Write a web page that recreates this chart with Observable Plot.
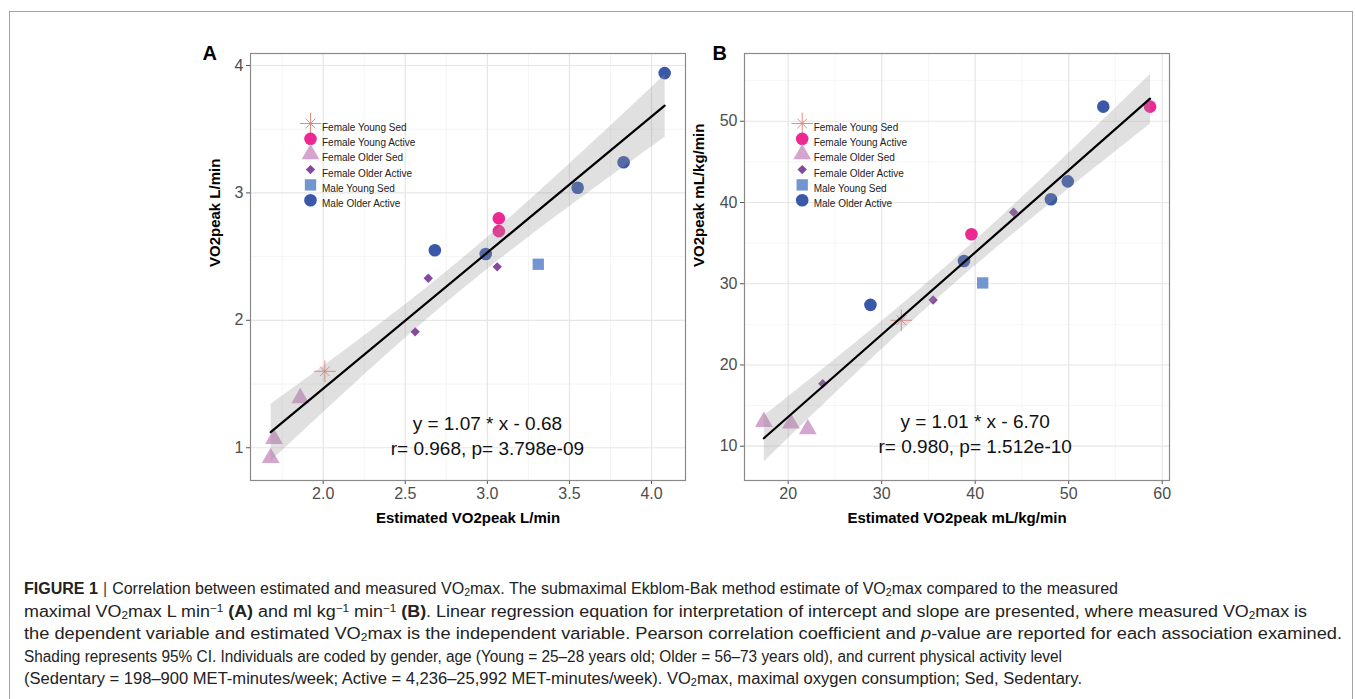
<!DOCTYPE html>
<html>
<head>
<meta charset="utf-8">
<script src="https://cdn.jsdelivr.net/npm/d3@7"></script>
<script src="https://cdn.jsdelivr.net/npm/@observablehq/plot@0.6"></script>
<style>
  html, body { margin: 0; padding: 0; background: #fff; }
  body { width: 1355px; height: 699px; overflow: hidden; position: relative; font-family: "Liberation Sans", Arial, sans-serif; }
  #box { position: absolute; left: 9px; top: 11px; width: 1344px; height: 760px; border: 1px solid #a3a3a3; box-sizing: border-box; }
  #pa { position: absolute; left: 180px; top: 40px; }
  #pb { position: absolute; left: 690px; top: 40px; }
  #cap { position: absolute; left: 24px; top: 578px; font-size: 16px; line-height: 22.6px; color: #222; white-space: nowrap; }
  #cap .ln { display: block; width: max-content; transform-origin: 0 50%; }
  #cap b { font-weight: bold; }
  #cap .sep { color: #444; padding: 0 5px; }
  sub { font-size: 10.5px; vertical-align: -2px; line-height: 0; }
  sup { font-size: 10.5px; vertical-align: 5px; line-height: 0; }
</style>
</head>
<body>
<div id="box"></div>
<div id="pa"></div>
<div id="pb"></div>
<div id="cap">
<span class="ln" data-end="1118"><b>FIGURE 1</b><span class="sep">|</span>Correlation between estimated and measured VO<sub>2</sub>max. The submaximal Ekblom-Bak method estimate of VO<sub>2</sub>max compared to the measured</span>
<span class="ln" data-end="1307">maximal VO<sub>2</sub>max L min<sup>−1</sup> <b>(A)</b> and ml kg<sup>−1</sup> min<sup>−1</sup> <b>(B)</b>. Linear regression equation for interpretation of intercept and slope are presented, where measured VO<sub>2</sub>max is</span>
<span class="ln" data-end="1342">the dependent variable and estimated VO<sub>2</sub>max is the independent variable. Pearson correlation coefficient and <i>p</i>-value are reported for each association examined.</span>
<span class="ln" data-end="1062">Shading represents 95% CI. Individuals are coded by gender, age (Young = 25–28 years old; Older = 56–73 years old), and current physical activity level</span>
<span class="ln" data-end="1082">(Sedentary = 198–900 MET-minutes/week; Active = 4,236–25,992 MET-minutes/week). VO<sub>2</sub>max, maximal oxygen consumption; Sed, Sedentary.</span>
</div>
<script>
// ---------- data ----------
const groups = ["Female Young Sed", "Female Young Active", "Female Older Sed", "Female Older Active", "Male Young Sed", "Male Older Active"];
const groupColors = ["#ec7c73", "#ec1c8c", "#d3a0cb", "#7d3f98", "#6b8fd0", "#2f4fa3"];
const groupSymbols = ["star8", "circle", "triangle", "diamond2", "square", "circle"];
const groupRadius = [7, 6.3, 6.6, 4.2, 6.4, 6.3];

const pointGroups = ["Male Older Active", "Male Older Active", "Male Older Active", "Male Older Active", "Male Older Active",
  "Female Young Active", "Female Young Active", "Male Young Sed",
  "Female Older Active", "Female Older Active", "Female Older Active",
  "Female Young Sed", "Female Older Sed", "Female Older Sed", "Female Older Sed"];

// Panel A (L/min)
const estA  = [4.08, 3.83, 3.55, 2.99, 2.68, 3.07, 3.07, 3.31, 2.64, 3.06, 2.56, 2.01, 1.86, 1.70, 1.68];
const measA = [3.94, 3.24, 3.04, 2.52, 2.55, 2.80, 2.70, 2.44, 2.33, 2.42, 1.91, 1.60, 1.39, 1.07, 0.92];
// Panel B (mL/kg/min)
const estB  = [53.7, 49.9, 48.1, 38.8, 28.8, 58.7, 39.6, 40.8, 44.1, 35.5, 23.7, 32.1, 17.4, 20.3, 22.1];
const measB = [51.8, 42.6, 40.4, 32.8, 27.4, 51.8, 36.1, 30.1, 38.8, 28.0, 17.7, 25.5, 13.0, 12.8, 12.1];

const xDomainA = [1.557, 4.207], yDomainA = [0.743, 4.094];
const xDomainB = [15.33, 60.78], yDomainB = [5.78, 58.34];
const xTicksA = [2.0, 2.5, 3.0, 3.5, 4.0], yTicksA = [1, 2, 3, 4];
const xGridMinorA = [1.75, 2.25, 2.75, 3.25, 3.75], yGridMinorA = [1.5, 2.5, 3.5];
const xTicksB = [20, 30, 40, 50, 60], yTicksB = [10, 20, 30, 40, 50];
const xGridMinorB = [25, 35, 45, 55], yGridMinorB = [15, 25, 35, 45, 55];

const eqA = ["y = 1.07 * x - 0.68", "r= 0.968, p= 3.798e-09"], eqAx = [3.0, 3.0], eqAy = [1.19, 0.99];
const eqB = ["y = 1.01 * x - 6.70", "r= 0.980, p= 1.512e-10"], eqBx = [40, 40], eqBy = [12.96, 9.88];

const titles = {
  A: {panel: "A", x: "Estimated VO2peak L/min", y: "VO2peak L/min"},
  B: {panel: "B", x: "Estimated VO2peak mL/kg/min", y: "VO2peak mL/kg/min"}
};

// ---------- drawing ----------
const FONT = "Liberation Sans, Arial, Helvetica, sans-serif";

function symbolMarks(data, g, legend) {
  const gi = groups.indexOf(g);
  const color = groupColors[gi], sym = groupSymbols[gi], r = groupRadius[gi];
  const base = legend ? legend : {x: "x", y: "y"};
  if (sym === "star8") {
    return [
      Plot.dot(data, {...base, symbol: "plus", r: r, stroke: color, strokeWidth: 0.9, fill: "none"}),
      Plot.dot(data, {...base, symbol: "times", r: r / 1.55, stroke: color, strokeWidth: 0.9, fill: "none"})
    ];
  }
  return [Plot.dot(data, {...base, symbol: sym, r: r, fill: color, fillOpacity: 0.95, stroke: "none"})];
}

function panel(cfg) {
  const data = cfg.est.map((v, i) => ({x: v, y: cfg.meas[i], g: pointGroups[i]}));
  const marks = [
    Plot.gridX(cfg.xMinor, {stroke: "#f1f1f1", strokeOpacity: 1, strokeWidth: 0.7}),
    Plot.gridY(cfg.yMinor, {stroke: "#f1f1f1", strokeOpacity: 1, strokeWidth: 0.7}),
    Plot.gridX(cfg.xTicks, {stroke: "#e6e6e6", strokeOpacity: 1, strokeWidth: 1.2}),
    Plot.gridY(cfg.yTicks, {stroke: "#e6e6e6", strokeOpacity: 1, strokeWidth: 1.2}),
    Plot.axisX(cfg.xTicks, {tickFormat: cfg.xFormat, fontSize: 16, color: "#4d4d4d", stroke: "#555", tickSize: 4, tickPadding: 3, label: null}),
    Plot.axisY(cfg.yTicks, {tickFormat: cfg.yFormat, fontSize: 16, color: "#4d4d4d", stroke: "#555", tickSize: 4, tickPadding: 3, label: null}),
  ];
  for (const g of groups) {
    const sub = data.filter(d => d.g === g);
    if (sub.length) marks.push(...symbolMarks(sub, g));
  }
  marks.push(Plot.linearRegressionY(data, {x: "x", y: "y", ci: 0.95, stroke: "#000", strokeWidth: 2.2, fill: "#999", fillOpacity: 0.3}));
  marks.push(Plot.frame({stroke: "#8a8a8a", strokeWidth: 1.2}));
  groups.forEach((g, i) => {
    marks.push(...symbolMarks([g], g, {frameAnchor: "top-left", dx: cfg.legX, dy: 70 + i * 15.35}));
    marks.push(Plot.text([g], {frameAnchor: "top-left", dx: cfg.legX + 11.5, dy: 70 + i * 15.35, text: d => d, textAnchor: "start", fontSize: 10, fill: "#222"}));
  });
  marks.push(Plot.text(cfg.eq, {x: (d, i) => cfg.eqx[i], y: (d, i) => cfg.eqy[i], text: d => d, fontSize: 19, fill: "#111"}));
  marks.push(Plot.text([cfg.titles.x], {frameAnchor: "bottom", dy: 42.7, text: d => d, fontSize: 15, fontWeight: "bold", fill: "#000"}));
  marks.push(Plot.text([cfg.titles.y], {frameAnchor: "left", dx: cfg.yTitleDx, rotate: -90, text: d => d, fontSize: 15, fontWeight: "bold", fill: "#000"}));
  marks.push(Plot.text([cfg.titles.panel], {frameAnchor: "top-left", dx: cfg.panelDx, dy: -8, text: d => d, fontSize: 20, fontWeight: "bold", fill: "#000"}));

  return Plot.plot({
    width: cfg.width, height: 500,
    marginLeft: cfg.marginLeft, marginRight: 15, marginTop: 13, marginBottom: 60,
    style: {fontFamily: FONT, fontSize: "16px", background: "transparent", overflow: "visible", color: "#4d4d4d"},
    x: {domain: cfg.xDomain},
    y: {domain: cfg.yDomain},
    marks
  });
}

document.getElementById("pa").appendChild(panel({
  est: estA, meas: measA, xDomain: xDomainA, yDomain: yDomainA,
  xTicks: xTicksA, yTicks: yTicksA, xMinor: xGridMinorA, yMinor: yGridMinorA,
  xFormat: d3.format(".1f"), yFormat: d3.format("d"),
  eq: eqA, eqx: eqAx, eqy: eqAy, titles: titles.A,
  width: 520, marginLeft: 70, legX: 60, yTitleDx: -35, panelDx: -48
}));
document.getElementById("pb").appendChild(panel({
  est: estB, meas: measB, xDomain: xDomainB, yDomain: yDomainB,
  xTicks: xTicksB, yTicks: yTicksB, xMinor: xGridMinorB, yMinor: yGridMinorB,
  xFormat: d3.format("d"), yFormat: d3.format("d"),
  eq: eqB, eqx: eqBx, eqy: eqBy, titles: titles.B,
  width: 494, marginLeft: 54, legX: 57.7, yTitleDx: -45, panelDx: -32
}));

// stretch each caption line so its right end matches the reference layout
function fitCaption() {
  document.querySelectorAll("#cap .ln").forEach(el => {
    el.style.transform = "none";
    const rect = el.getBoundingClientRect();
    const target = +el.dataset.end - rect.left;
    el.style.transform = `scaleX(${target / rect.width})`;
  });
}
fitCaption();
if (document.fonts && document.fonts.ready) document.fonts.ready.then(fitCaption);
</script>
</body>
</html>
